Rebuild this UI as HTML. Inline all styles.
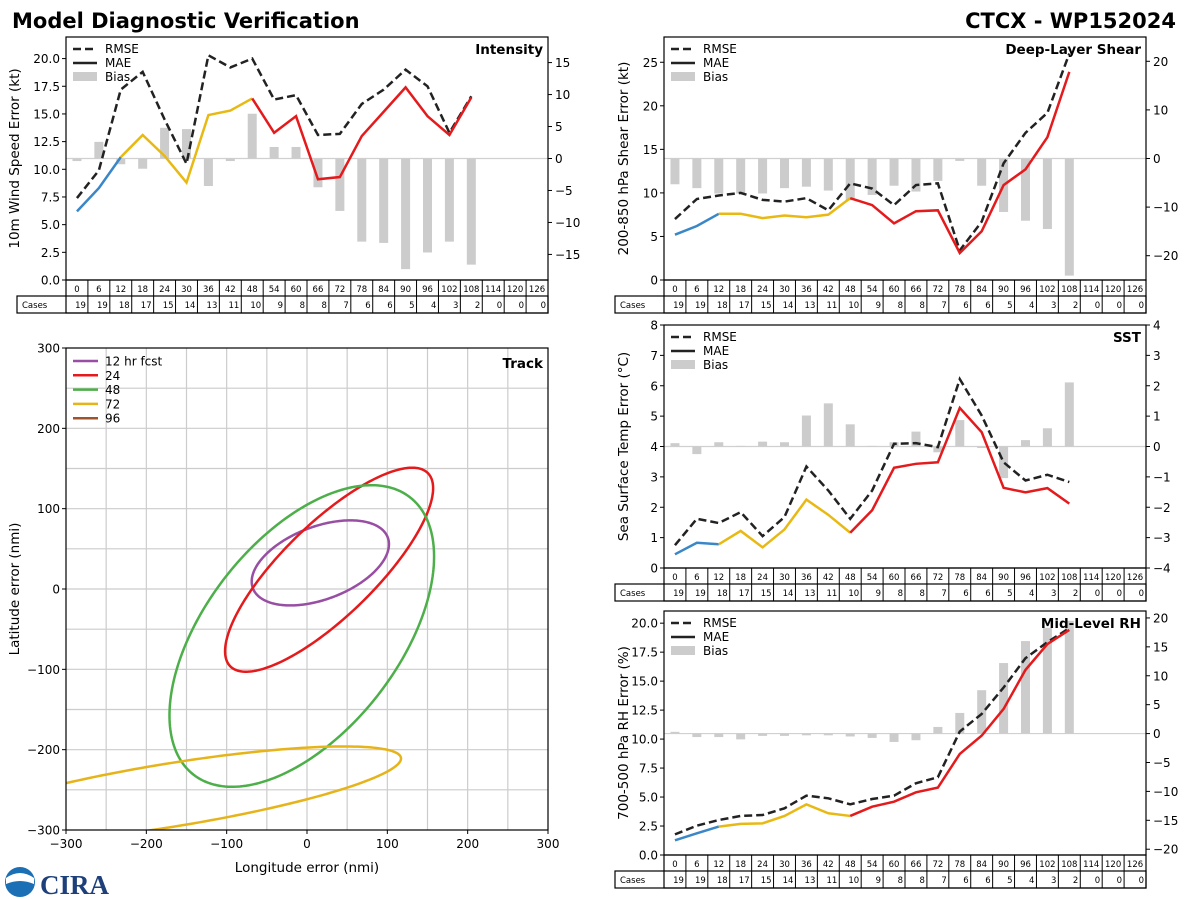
<!DOCTYPE html>
<html><head><meta charset="utf-8"><style>
body{margin:0;background:#fff}
svg{display:block;font-family:"DejaVu Sans","Liberation Sans",sans-serif}
</style></head><body>
<svg id="c" width="1200" height="900" viewBox="0 0 1200 900" xmlns="http://www.w3.org/2000/svg">
<text x="12" y="28" font-size="21" font-weight="bold">Model Diagnostic Verification</text>
<text x="1176" y="28" font-size="21" font-weight="bold" text-anchor="end">CTCX - WP152024</text>
<g>
<circle cx="20" cy="882" r="15" fill="#1a6fb5"/>
<path d="M6,878 Q20,868 34,878 L34,884 Q20,878 6,884Z" fill="#fff"/>
<text x="40" y="894" font-size="27" font-weight="bold" fill="#1d3f7a" font-family="Liberation Serif,serif">CIRA</text>
</g>
</svg>
<script>
const hours=[0,6,12,18,24,30,36,42,48,54,60,66,72,78,84,90,96,102,108,114,120,126];
const cases=[19,19,18,17,15,14,13,11,10,9,8,8,7,6,6,5,4,3,2,0,0,0];
const intRmse=[7.4,9.9,17.2,18.8,14.5,10.5,20.3,19.2,20.0,16.3,16.7,13.1,13.2,15.9,17.2,19.0,17.5,13.3,16.6];
const intMae=[6.2,8.3,11.1,13.1,11.2,8.8,14.9,15.3,16.4,13.3,14.8,9.1,9.3,13.0,15.2,17.4,14.8,13.1,16.5];
const intBias=[-0.4,2.6,-0.9,-1.6,4.8,4.6,-4.3,-0.4,7.0,1.8,1.8,-4.5,-8.2,-13.0,-13.2,-17.3,-14.7,-13.0,-16.6];
const shrRmse=[7.0,9.3,9.7,10.0,9.2,9.0,9.4,8.0,11.1,10.5,8.6,10.9,11.1,3.4,6.7,13.4,16.9,19.2,26.0];
const shrMae=[5.2,6.2,7.6,7.6,7.1,7.4,7.2,7.5,9.4,8.6,6.5,7.9,8.0,3.1,5.6,10.9,12.7,16.4,23.9];
const shrBias=[-5.3,-6.1,-7.2,-7.2,-7.2,-6.1,-5.8,-6.6,-8.6,-7.5,-5.6,-6.8,-4.6,-0.5,-5.6,-11.0,-12.8,-14.5,-24.1];
const sstRmse=[0.75,1.62,1.48,1.84,1.05,1.68,3.34,2.55,1.62,2.55,4.09,4.11,3.98,6.22,5.02,3.48,2.88,3.07,2.83];
const sstMae=[0.45,0.83,0.78,1.22,0.68,1.27,2.25,1.75,1.16,1.9,3.3,3.43,3.48,5.27,4.47,2.64,2.49,2.63,2.12];
const sstBias=[0.11,-0.25,0.14,0.02,0.16,0.14,1.02,1.42,0.73,0.02,0.14,0.49,-0.19,0.87,-0.05,-1.04,0.21,0.6,2.11];
const rhRmse=[1.78,2.53,3.02,3.37,3.45,4.03,5.12,4.89,4.37,4.83,5.12,6.19,6.71,10.65,12.17,14.45,16.98,18.36,19.57];
const rhMae=[1.27,1.87,2.45,2.68,2.73,3.37,4.37,3.6,3.37,4.17,4.6,5.41,5.81,8.72,10.3,12.6,15.97,18.2,19.42];
const rhBias=[0.3,-0.6,-0.6,-1.0,-0.4,-0.4,-0.3,-0.3,-0.5,-0.75,-1.45,-1.15,1.15,3.57,7.5,12.2,16.0,18.3,19.5];
const trkLabels=['12 hr fcst','24','48','72','96'];
const trkCx=[16.6,27.5,-6.5,-170];
const trkCy=[32.5,24,-58.5,-256.6];
const trkA=[89.7,172,219,290.7];
const trkB=[45.3,57.5,120,39.4];
const trkAng=[20.7,44.3,52,9.2];
const trkColors=['#984ea3','#e41a1c','#4daf4a','#e6b41a','#a0522d'];

const S=document.getElementById('c');const NS='http://www.w3.org/2000/svg';
function el(t,a,p){const e=document.createElementNS(NS,t);for(const k in a)e.setAttribute(k,a[k]);(p||S).appendChild(e);return e;}
function tx(x,y,s,a,p){const e=el('text',Object.assign({x:x,y:y},a),p);e.textContent=s;return e;}

function panel(o){
  const g=el('g',{});
  
  
  const X0=o.x0,X1=o.x1,Y0=o.y0,Y1=o.y1,cw=(X1-X0)/22;
  const xs=i=>X0+cw*(i+0.5);
  const yl=v=>Y1-(v-o.l0)/(o.l1-o.l0)*(Y1-Y0);
  const yr=v=>Y1-(v-o.r0)/(o.r1-o.r0)*(Y1-Y0);
  const zl=el('line',{x1:X0,x2:X1,y1:yr(0),y2:yr(0),stroke:'#d0d0d0','stroke-width':1.2},g);
  
  
  o.bias.forEach((v,i)=>{const r=el('rect',{x:xs(i)-4.5,y:Math.min(yr(v),yr(0)),width:9,height:Math.abs(yr(v)-yr(0)),fill:'#cccccc'},g);
    
    });
  const pr=el('polyline',{points:o.rmse.map((v,i)=>xs(i)+','+yl(v)).join(' '),fill:'none',stroke:'#222','stroke-width':2.5,'stroke-dasharray':'8,4'},g);
  
  
  [[0,2,'#3a87c8'],[2,8,'#e9b913'],[8,o.mae.length-1,'#e41a1c']].forEach(s=>{
    const pts=[];for(let i=s[0];i<=s[1];i++)pts.push(xs(i)+','+yl(o.mae[i]));
    const m=el('polyline',{points:pts.join(' '),fill:'none',stroke:s[2],'stroke-width':2.5},g);
    
    });
  el('rect',{x:X0,y:Y0,width:X1-X0,height:Y1-Y0,fill:'none',stroke:'#000','stroke-width':1.2},g);
  o.lt.forEach(v=>{const y=yl(v);el('line',{x1:X0-4,x2:X0,y1:y,y2:y,stroke:'#000'},g);
    const t=tx(X0-6,y+4.5,o.lf(v),{'font-size':12,'text-anchor':'end'},g);
    
    });
  o.rt.forEach(v=>{const y=yr(v);el('line',{x1:X1,x2:X1+4,y1:y,y2:y,stroke:'#000'},g);
    const t=tx(X1+7,y+4.5,String(v).replace('-','\u2212'),{'font-size':12},g);
    
    });
  const yt=tx(0,0,o.ylab,{'font-size':13.5,'text-anchor':'middle',transform:`translate(${o.ylx},${(Y0+Y1)/2}) rotate(-90)`},g);
  
  
  const pt=tx(X1-5,Y0+17,o.title,{'font-size':13.5,'font-weight':'bold','text-anchor':'end'},g);
  
  
  const lg=el('g',{},g);
  
  
  el('line',{x1:X0+7,x2:X0+31,y1:Y0+12,y2:Y0+12,stroke:'#222','stroke-width':2.5,'stroke-dasharray':'8,4'},lg);
  tx(X0+39,Y0+16,'RMSE',{'font-size':12},lg);
  el('line',{x1:X0+7,x2:X0+31,y1:Y0+26,y2:Y0+26,stroke:'#222','stroke-width':2.5},lg);
  tx(X0+39,Y0+30,'MAE',{'font-size':12},lg);
  el('rect',{x:X0+7,y:Y0+35,width:24,height:9,fill:'#cccccc'},lg);
  tx(X0+39,Y0+44,'Bias',{'font-size':12},lg);
  const tb=el('g',{},g);
  
  
  const r1=Y1+16,r2=Y1+33;
  el('rect',{x:X0,y:Y1,width:X1-X0,height:r2-Y1,fill:'none',stroke:'#000','stroke-width':1.2},tb);
  el('rect',{x:o.cx,y:r1,width:X1-o.cx,height:r2-r1,fill:'none',stroke:'#000','stroke-width':1.2},tb);
  hours.forEach((h,i)=>{const x=X0+cw*i;el('line',{x1:x,x2:x,y1:Y1,y2:r2,stroke:'#000'},tb);
    tx(x+cw/2,Y1+12,String(h),{'font-size':8.5,'text-anchor':'middle'},tb);
    tx(x+cw-2,r1+12,String(cases[i]),{'font-size':8.5,'text-anchor':'end'},tb);});
  tx(o.cx+5,r1+12,'Cases',{'font-size':8.5},tb);
}
const f1=v=>v.toFixed(1), f0=v=>String(v);
panel({name:'intensity',x0:66,x1:548,y0:37,y1:280,l0:0,l1:21.95,r0:-19,r1:19,lt:[0,2.5,5,7.5,10,12.5,15,17.5,20],lf:f1,rt:[-15,-10,-5,0,5,10,15],
  rmse:intRmse,mae:intMae,bias:intBias,ylab:'10m Wind Speed Error (kt)',ylx:19,title:'Intensity',cx:17});
panel({name:'shear',x0:664,x1:1146,y0:37,y1:280,l0:0,l1:27.9,r0:-25,r1:25,lt:[0,5,10,15,20,25],lf:f0,rt:[-20,-10,0,10,20],
  rmse:shrRmse,mae:shrMae,bias:shrBias,ylab:'200-850 hPa Shear Error (kt)',ylx:628,title:'Deep-Layer Shear',cx:615});
panel({name:'sst',x0:664,x1:1146,y0:325,y1:568,l0:0,l1:8,r0:-4,r1:4,lt:[0,1,2,3,4,5,6,7,8],lf:f0,rt:[-4,-3,-2,-1,0,1,2,3,4],
  rmse:sstRmse,mae:sstMae,bias:sstBias,ylab:'Sea Surface Temp Error (°C)',ylx:628,title:'SST',cx:615});
panel({name:'rh',x0:664,x1:1146,y0:611,y1:855,l0:0,l1:21.05,r0:-21,r1:21.2,lt:[0,2.5,5,7.5,10,12.5,15,17.5,20],lf:f1,rt:[-20,-15,-10,-5,0,5,10,15,20],
  rmse:rhRmse,mae:rhMae,bias:rhBias,ylab:'700-500 hPa RH Error (%)',ylx:628,title:'Mid-Level RH',cx:615});

(function(){
  const g=el('g',{});
  
  
  const X0=66,X1=548,Y0=348,Y1=830;
  const sx=v=>X0+(v+300)/600*(X1-X0), sy=v=>Y1-(v+300)/600*(Y1-Y0);
  const cp=el('clipPath',{id:'tc'},g);el('rect',{x:X0,y:Y0,width:X1-X0,height:Y1-Y0},cp);
  for(let v=-250;v<300;v+=50){el('line',{x1:sx(v),x2:sx(v),y1:Y0,y2:Y1,stroke:'#cccccc','stroke-width':1.2},g);
    el('line',{x1:X0,x2:X1,y1:sy(v),y2:sy(v),stroke:'#cccccc','stroke-width':1.2},g);}
  trkCx.forEach((cx,i)=>{const pts=[];const t=trkAng[i]*Math.PI/180;
    for(let k=0;k<=240;k++){const a=k/240*2*Math.PI;const u=trkA[i]*Math.cos(a),w=trkB[i]*Math.sin(a);
      pts.push(sx(cx+u*Math.cos(t)-w*Math.sin(t))+','+sy(trkCy[i]+u*Math.sin(t)+w*Math.cos(t)));}
    const p=el('polygon',{points:pts.join(' '),fill:'none',stroke:trkColors[i],'stroke-width':2.5,'clip-path':'url(#tc)'},g);
    
    });
  el('rect',{x:X0,y:Y0,width:X1-X0,height:Y1-Y0,fill:'none',stroke:'#000','stroke-width':1.2},g);
  for(let v=-300;v<=300;v+=100){const s=String(v).replace('-','\u2212');
    el('line',{x1:sx(v),x2:sx(v),y1:Y1,y2:Y1+4,stroke:'#000'},g);
    const a=tx(sx(v),Y1+18,s,{'font-size':12,'text-anchor':'middle'},g);
    
    
    el('line',{x1:X0-4,x2:X0,y1:sy(v),y2:sy(v),stroke:'#000'},g);
    const b=tx(X0-6,sy(v)+4.5,s,{'font-size':12,'text-anchor':'end'},g);
    
    }
  const xt=tx((X0+X1)/2,Y1+42,'Longitude error (nmi)',{'font-size':13.5,'text-anchor':'middle'},g);
  
  
  const yt=tx(0,0,'Latitude error (nmi)',{'font-size':13.5,'text-anchor':'middle',transform:`translate(19,${(Y0+Y1)/2}) rotate(-90)`},g);
  
  
  const tt=tx(X1-5,Y0+20,'Track',{'font-size':13.5,'font-weight':'bold','text-anchor':'end'},g);
  
  
  trkLabels.forEach((l,i)=>{const y=Y0+13+i*14.3;
    const lg=el('g',{},g);
    
    
    el('line',{x1:X0+7,x2:X0+32,y1:y,y2:y,stroke:trkColors[i],'stroke-width':2.5},lg);
    tx(X0+39,y+4.5,l,{'font-size':12},lg);});
})();
</script>
</body></html>
